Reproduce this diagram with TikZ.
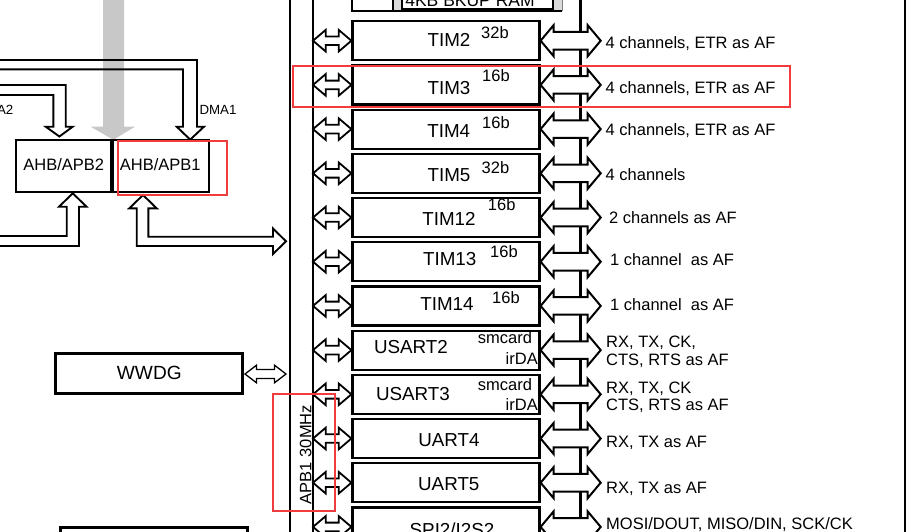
\documentclass[tikz,border=0pt]{standalone}
\usepackage{fontspec}
\setmainfont{Liberation Sans}
\usetikzlibrary{calc}
\definecolor{hlred}{RGB}{240,60,60}
\definecolor{busgray}{RGB}{200,200,200}
\definecolor{ramgray}{RGB}{217,217,217}
\newcommand\fszA{\fontsize{18.8}{22}\selectfont}
\newcommand\fszB{\fontsize{16.5}{19}\selectfont}
\newcommand\fszC{\fontsize{13.3}{16}\selectfont}
\newcommand\fszW{\fontsize{19.1}{22}\selectfont}
% hollow horizontal double arrow: [style]{left tip}{right tip}{head length}{half head}{half shaft}
\newcommand\hdarrow[6][]{%
  \draw[#1] let \p1=#2, \p2=#3 in
    (\x1,\y1) -- (\x1+#4,\y1+#5) -- (\x1+#4,\y1+#6) -- (\x2-#4,\y1+#6) -- (\x2-#4,\y1+#5) -- (\x2,\y1)
    -- (\x2-#4,\y1-#5) -- (\x2-#4,\y1-#6) -- (\x1+#4,\y1-#6) -- (\x1+#4,\y1-#5) -- cycle;}
\begin{document}
\begin{tikzpicture}[x=1pt,y=-1pt,
  box/.style={draw=black,line width=2.2pt,fill=white,minimum width=187pt,minimum height=39pt,inner sep=0pt},
  ahb/.style={draw=black,line width=2.2pt,fill=white,minimum height=52pt,inner sep=0pt},
  boxlbl/.style={anchor=base,inner sep=0pt,font=\fszA},
  suplbl/.style={anchor=base,inner sep=0pt,font=\fszB},
  rlbl/.style={anchor=base west,inner sep=0pt,font=\fszB},
  larrow/.style={draw=black,line width=1.8pt,fill=white,line join=miter},
  rarrow/.style={draw=black,line width=2pt,fill=white,line join=miter},
  warrow/.style={draw=black,line width=1.3pt,fill=white,line join=miter},
  harrow/.style={draw=black,line width=1.9pt,line join=miter},
  hl/.style={draw=hlred,line width=2.2pt},
  vline/.style={draw=black,line width=2.2pt}]
\useasboundingbox (0,0) rectangle (912,531);
\clip (0,0) rectangle (912,531);
\fill[white] (0,0) rectangle (912,531);

% vertical lines
\coordinate (busx) at (313,0);
\coordinate (rtip) at (600.7,0);
\draw[vline] (290,-5) -- (290,540);
\draw[draw=black,line width=1.5pt] (313,-5) -- (313,540);
\draw[vline] (580.5,-5) -- (580.5,540);
\draw[vline] (905,-5) -- (905,540);

% top partial RAM block
\fill[ramgray] (393,-5) rectangle (562,11);
\draw[draw=gray,line width=1pt] (562,-5) -- (562,11);
\draw[line width=2.2pt] (352,-5) -- (352,11) -- (562,11);
\draw[line width=2.2pt] (393,-5) -- (393,11);
\node[draw=black,line width=2.2pt,fill=white,minimum width=151pt,minimum height=24pt,inner sep=0pt] (ram) at (477.5,-3) {};
\node[anchor=base,inner sep=0pt,font=\fontsize{17.5}{20}\selectfont] (ramlbl) at (470,6.2) {4KB BKUP RAM};

% peripheral boxes
\node[box] (b0) at (446,40.7) {};
\node[box] (b1) at (446,84.9) {};
\node[box] (b2) at (446,129.1) {};
\node[box] (b3) at (446,173.3) {};
\node[box] (b4) at (446,217.5) {};
\node[box] (b5) at (446,261.7) {};
\node[box] (b6) at (446,305.9) {};
\node[box] (b7) at (446,350.1) {};
\node[box] (b8) at (446,394.3) {};
\node[box] (b9) at (446,438.5) {};
\node[box] (b10) at (446,482.7) {};
\node[box] (b11) at (446,526.9) {};

% bus arrows
\foreach \i in {0,...,11}{
  \hdarrow[larrow]{(busx|-b\i)}{(b\i.west)}{12.7pt}{10.8pt}{4.3pt}
  \hdarrow[rarrow]{(b\i.east)}{(rtip|-b\i)}{13pt}{15.5pt}{8.8pt}
}

% box labels
\node[boxlbl] (t0) at (449,46.7) {TIM2};
\node[boxlbl] (t1) at (449,94) {TIM3};
\node[boxlbl] (t2) at (448.7,137.4) {TIM4};
\node[boxlbl] (t3) at (449,181) {TIM5};
\node[boxlbl] (t4) at (449,225) {TIM12};
\node[boxlbl] (t5) at (449.7,265) {TIM13};
\node[boxlbl] (t6) at (447,310.7) {TIM14};
\node[boxlbl] (t7) at (411,353.3) {USART2};
\node[boxlbl] (t8) at (413,400) {USART3};
\node[boxlbl] (t9) at (449,446) {UART4};
\node[boxlbl] (t10) at (448.8,490.7) {UART5};
\node[boxlbl] (t11) at (452,536.8) {SPI2/I2S2};

% bit widths
\node[suplbl] (s0) at (495,38.3) {32b};
\node[suplbl] (s1) at (496,81) {16b};
\node[suplbl] (s2) at (496,128.3) {16b};
\node[suplbl] (s3) at (495.5,173.3) {32b};
\node[suplbl] (s4) at (501.7,210.7) {16b};
\node[suplbl] (s5) at (504,257.7) {16b};
\node[suplbl] (s6) at (506,303.3) {16b};
\node[suplbl] (sm7) at (505,343.3) {smcard};
\node[suplbl,anchor=base east] (ir7) at (538,364.3) {irDA};
\node[suplbl] (sm8) at (505,390) {smcard};
\node[suplbl,anchor=base east] (ir8) at (538,410.7) {irDA};

% right labels
\node[rlbl] (r0) at (605.5,48.6) {4 channels, ETR as AF};
\node[rlbl] (r1) at (605.5,93.6) {4 channels, ETR as AF};
\node[rlbl] (r2) at (605.5,135.2) {4 channels, ETR as AF};
\node[rlbl] (r3) at (605.5,180.2) {4 channels};
\node[rlbl] (r4) at (609,223.2) {2 channels as AF};
\node[rlbl] (r5) at (610,265.2) {1 channel\ \ as AF};
\node[rlbl] (r6) at (610,310.2) {1 channel\ \ as AF};
\node[rlbl] (r7a) at (606,347.6) {RX, TX, CK,};
\node[rlbl] (r7b) at (606,365.2) {CTS, RTS as AF};
\node[rlbl] (r8a) at (606,393.2) {RX, TX, CK};
\node[rlbl] (r8b) at (606,410.9) {CTS, RTS as AF};
\node[rlbl] (r9) at (606,447.6) {RX, TX as AF};
\node[rlbl] (r10) at (606,493.2) {RX, TX as AF};
\node[rlbl] (r11) at (606,529.2) {MOSI/DOUT, MISO/DIN, SCK/CK};

% left side: big gray arrow
\fill[busgray] (103,-5) -- (103,126.7) -- (90.7,126.7) -- (113.3,139.8) -- (135,126.7) -- (124,126.7) -- (124,-5) -- cycle;

% AHB/APB bridges
\node[ahb,minimum width=95.5pt] (apb2) at (63.45,166.35) {};
\node[ahb,minimum width=96.5pt] (apb1) at (160.75,166.35) {};
\node[anchor=base,inner sep=0pt,font=\fszB] (apb2lbl) at (63.7,170.7) {AHB/APB2};
\node[anchor=base,inner sep=0pt,font=\fszB] (apb1lbl) at (160.3,170.7) {AHB/APB1};

% DMA arrows
\draw[harrow] (-5,60) -- (197,60) -- (197,126.7) -- (204,126.7) -- (190.2,139.6) -- (176.7,126.7) -- (183,126.7) -- (183,69.3) -- (-5,69.3);
\draw[harrow] (-5,85) -- (65.7,85) -- (65.7,126.7) -- (72.7,126.7) -- (59.4,136.5) -- (45.7,126.7) -- (53.3,126.7) -- (53.3,95) -- (-5,95);
\node[anchor=base west,inner sep=0pt,font=\fszC] (dma1) at (199.3,114.3) {DMA1};
\node[anchor=base east,inner sep=0pt,font=\fszC] (dma2) at (13.5,114.3) {DMA2};

% bridge bottom arrows
\draw[harrow] (-5,236) -- (66.7,236) -- (66.7,206.7) -- (59,206.7) -- (72.8,193.3) -- (86.5,206.7) -- (79,206.7) -- (79,246) -- (-5,246);
\draw[harrow,fill=white] (273,246) -- (136.7,246) -- (136.7,208.3) -- (129.3,208.3) -- (143,195) -- (156.7,208.3) -- (148.3,208.3) -- (148.3,236.7) -- (273,236.7) -- (273,228.5) -- (286,241.3) -- (273,254) -- cycle;

% WWDG
\node[draw=black,line width=2.2pt,fill=white,minimum width=187pt,minimum height=40pt,inner sep=0pt] (wwdg) at (149,373.4) {};
\node[anchor=base,inner sep=0pt,font=\fszW] (wwdglbl) at (149.3,379) {WWDG};
\coordinate (ww1) at (245,374);
\coordinate (ww2) at (286,374);
\hdarrow[warrow]{(ww1)}{(ww2)}{11.5pt}{8.8pt}{4.5pt}

% bottom partial block
\node[draw=black,line width=2.2pt,fill=white,minimum width=187pt,minimum height=30pt,inner sep=0pt] (botbox) at (154,542.5) {};

% APB1 bus label
\node[rotate=90,inner sep=0pt,font=\fszB] (apblbl) at (305.6,454.5) {APB1 30MHz};

% highlight rectangles
\draw[hl] (118,141) rectangle (227,195);
\draw[hl] (293.3,66) rectangle (790,107.3);
\draw[hl] (273.3,394.3) rectangle (335.3,510.7);
\end{tikzpicture}
\end{document}
